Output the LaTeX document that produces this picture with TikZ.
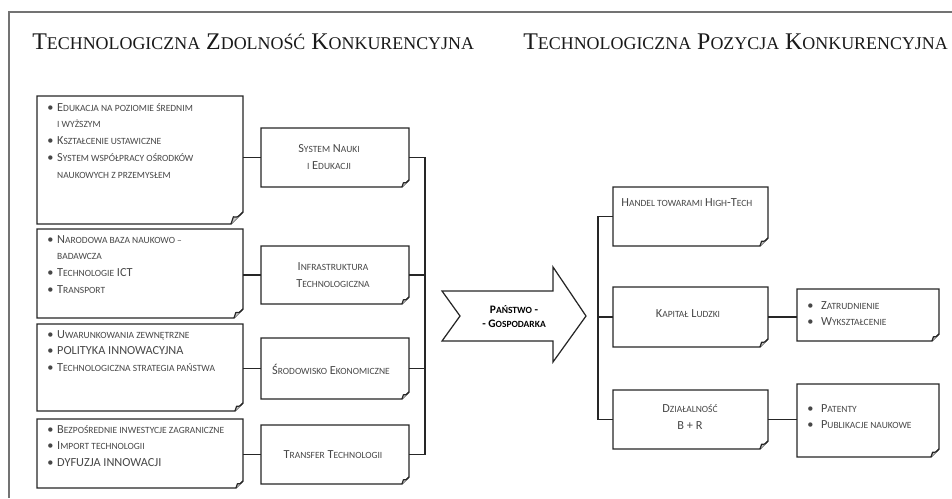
\documentclass[tikz,border=0pt]{standalone}
\usepackage{fontspec}
\setmainfont{Carlito}
\newfontfamily\titlefont{Liberation Serif}
\usetikzlibrary{fit}

% small capitals by hand
\newcommand{\smc}[1]{{\fontsize{5.4}{9.6}\selectfont\MakeUppercase{#1}}}
\newcommand{\tsc}[1]{{\fontsize{10.2}{12}\selectfont\MakeUppercase{#1}}}
\newcommand{\bul}{\makebox[5.6pt][l]{\textbullet}}
\newcommand{\ind}{\hspace*{5.6pt}}
\newcommand{\rbul}{\makebox[7.8pt][l]{\textbullet}}

% box with folded corner: name, x1, y1, x2, y2, fold
\newcommand{\foldbox}[6]{%
  \coordinate (#1-nw) at (#2,#3);
  \coordinate (#1-se) at (#4,#5);
  \node[fit=(#1-nw)(#1-se), inner sep=0pt] (#1) {};
  \draw[boxline, fill=white] (#2,#3) -- (#4,#3) -- (#4,#5-#6) -- (#4-#6,#5) -- (#2,#5) -- cycle;
  \draw[boxline, fill=black!20, line join=round] (#4,#5-#6) .. controls (#4-0.45*#6,#5-0.55*#6) .. (#4-0.8*#6,#5-0.6*#6) -- (#4-#6,#5);
}

\tikzset{
  boxline/.style={draw=black!85, line width=0.7pt},
  conn/.style={draw=black!85, line width=0.7pt},
  listtext/.style={anchor=base west, inner sep=0pt, text=black!72, font=\fontsize{7}{9.6}\selectfont},
  boxtext/.style={align=center, inner sep=0pt, text=black!72, font=\fontsize{7}{9.6}\selectfont},
  headtext/.style={anchor=base west, inner sep=0pt, text=black!90, font=\titlefont\fontsize{13.6}{15}\selectfont},
}

\begin{document}
\begin{tikzpicture}[x=0.02cm, y=-0.02cm]
    \useasboundingbox (0,0) rectangle (952,498);
    \draw[black!55, line width=0.6pt] (9,498) -- (9,12) -- (952,12);

    \node[headtext] (head1) at (32,49) {T\tsc{echnologiczna} Z\tsc{dolność} K\tsc{onkurencyjna}};
    \node[headtext] (head2) at (523,49) {T\tsc{echnologiczna} P\tsc{ozycja} K\tsc{onkurencyjna}};

    % left side
    \foldbox{l1}{37}{96}{243}{224}{12}
    \foldbox{l2}{37}{229}{243}{318}{9}
    \foldbox{l3}{37}{324}{243}{411}{8}
    \foldbox{l4}{37}{419}{243}{488}{7}
    \node[listtext] (l1t) at (47,111) {\parbox[t]{190pt}{%
        \bul E\smc{dukacja na poziomie średnim}\\
        \ind\smc{i wyższym}\\
        \bul K\smc{ształcenie ustawiczne}\\
        \bul S\smc{ystem współpracy ośrodków}\\
        \ind\smc{naukowych z przemysłem}}};
    \node[listtext] (l2t) at (47,243) {\parbox[t]{190pt}{%
        \bul N\smc{arodowa baza naukowo --}\\
        \ind\smc{badawcza}\\
        \bul T\smc{echnologie} ICT\\
        \bul T\smc{ransport}}};
    \node[listtext] (l3t) at (47,338) {\parbox[t]{190pt}{%
        \bul U\smc{warunkowania zewnętrzne}\\
        \bul POLITYKA INNOWACYJNA\\
        \bul T\smc{echnologiczna strategia państwa}}};
    \node[listtext] (l4t) at (47,433) {\parbox[t]{190pt}{%
        \bul B\smc{ezpośrednie inwestycje zagraniczne}\\
        \bul I\smc{mport technologii}\\
        \bul DYFUZJA INNOWACJI}};

    \foldbox{m1}{261}{128}{409}{187}{7}
    \foldbox{m2}{261}{246}{409}{304}{7}
    \foldbox{m3}{261}{338}{409}{399}{7}
    \foldbox{m4}{261}{425}{409}{484}{7}
    \node[boxtext] (m1t) at (329,157) {S\smc{ystem} N\smc{auki}\\ \smc{i} E\smc{dukacji}};
    \node[boxtext] (m2t) at (333,275) {I\smc{nfrastruktura}\\ T\smc{echnologiczna}};
    \node[boxtext] (m3t) at (331,369) {Ś\smc{rodowisko} E\smc{konomiczne}};
    \node[boxtext] (m4t) at (333,455) {T\smc{ransfer} T\smc{echnologii}};

    \draw[conn] (m1.west) -- (m1.west -| l1.east);
    \draw[conn] (m2.west) -- (m2.west -| l2.east);
    \draw[conn] (m3.west) -- (m3.west -| l3.east);
    \draw[conn] (m4.west) -- (m4.west -| l4.east);

    \coordinate (busL) at (425,0);
    \draw[conn] (m1.east) -- (m1.east -| busL) -- (m4.east -| busL) -- (m4.east);
    \draw[conn] (m2.east) -- (m2.east -| busL);
    \draw[conn] (m3.east) -- (m3.east -| busL);

    % arrow
    \draw[boxline, fill=white, line join=miter] (442,291) -- (553,291) -- (553,267) -- (586,316)
        -- (553,362) -- (553,341) -- (442,341) -- (460,316) -- cycle;
    \node[boxtext, text=black, font=\bfseries\fontsize{6.5}{8}\selectfont] (flow) at (514,317)
        {P\smc{aństwo} -\\ - G\smc{ospodarka}};

    % right side
    \foldbox{r1}{613}{187}{768}{246}{8}
    \foldbox{r2}{613}{287}{768}{347}{8}
    \foldbox{r3}{613}{390}{768}{449}{8}
    \foldbox{r2b}{797}{289}{939}{341}{7}
    \foldbox{r3b}{797}{384}{939}{457}{8}
    \node[listtext] (r1t) at (621,206) {H\smc{andel towarami} H\smc{igh}-T\smc{ech}};
    \node[boxtext] (r2t) at (688,314) {K\smc{apitał} L\smc{udzki}};
    \node[boxtext] (r3t) at (690,417) {D\smc{ziałalność}\\ B + R};
    \node[listtext] (r2bt) at (807,309) {\parbox[t]{120pt}{%
        \rbul Z\smc{atrudnienie}\\
        \rbul W\smc{ykształcenie}}};
    \node[listtext] (r3bt) at (807,412) {\parbox[t]{120pt}{%
        \rbul P\smc{atenty}\\
        \rbul P\smc{ublikacje naukowe}}};

    \coordinate (busR) at (598,0);
    \draw[conn] (r1.west) -- (r1.west -| busR) -- (r3.west -| busR) -- (r3.west);
    \draw[conn] (r2.west) -- (r2.west -| busR);
    \draw[conn] (r2.east) -- (r2.east -| r2b.west);
    \draw[conn] (r3.east) -- (r3.east -| r3b.west);
\end{tikzpicture}
\end{document}
